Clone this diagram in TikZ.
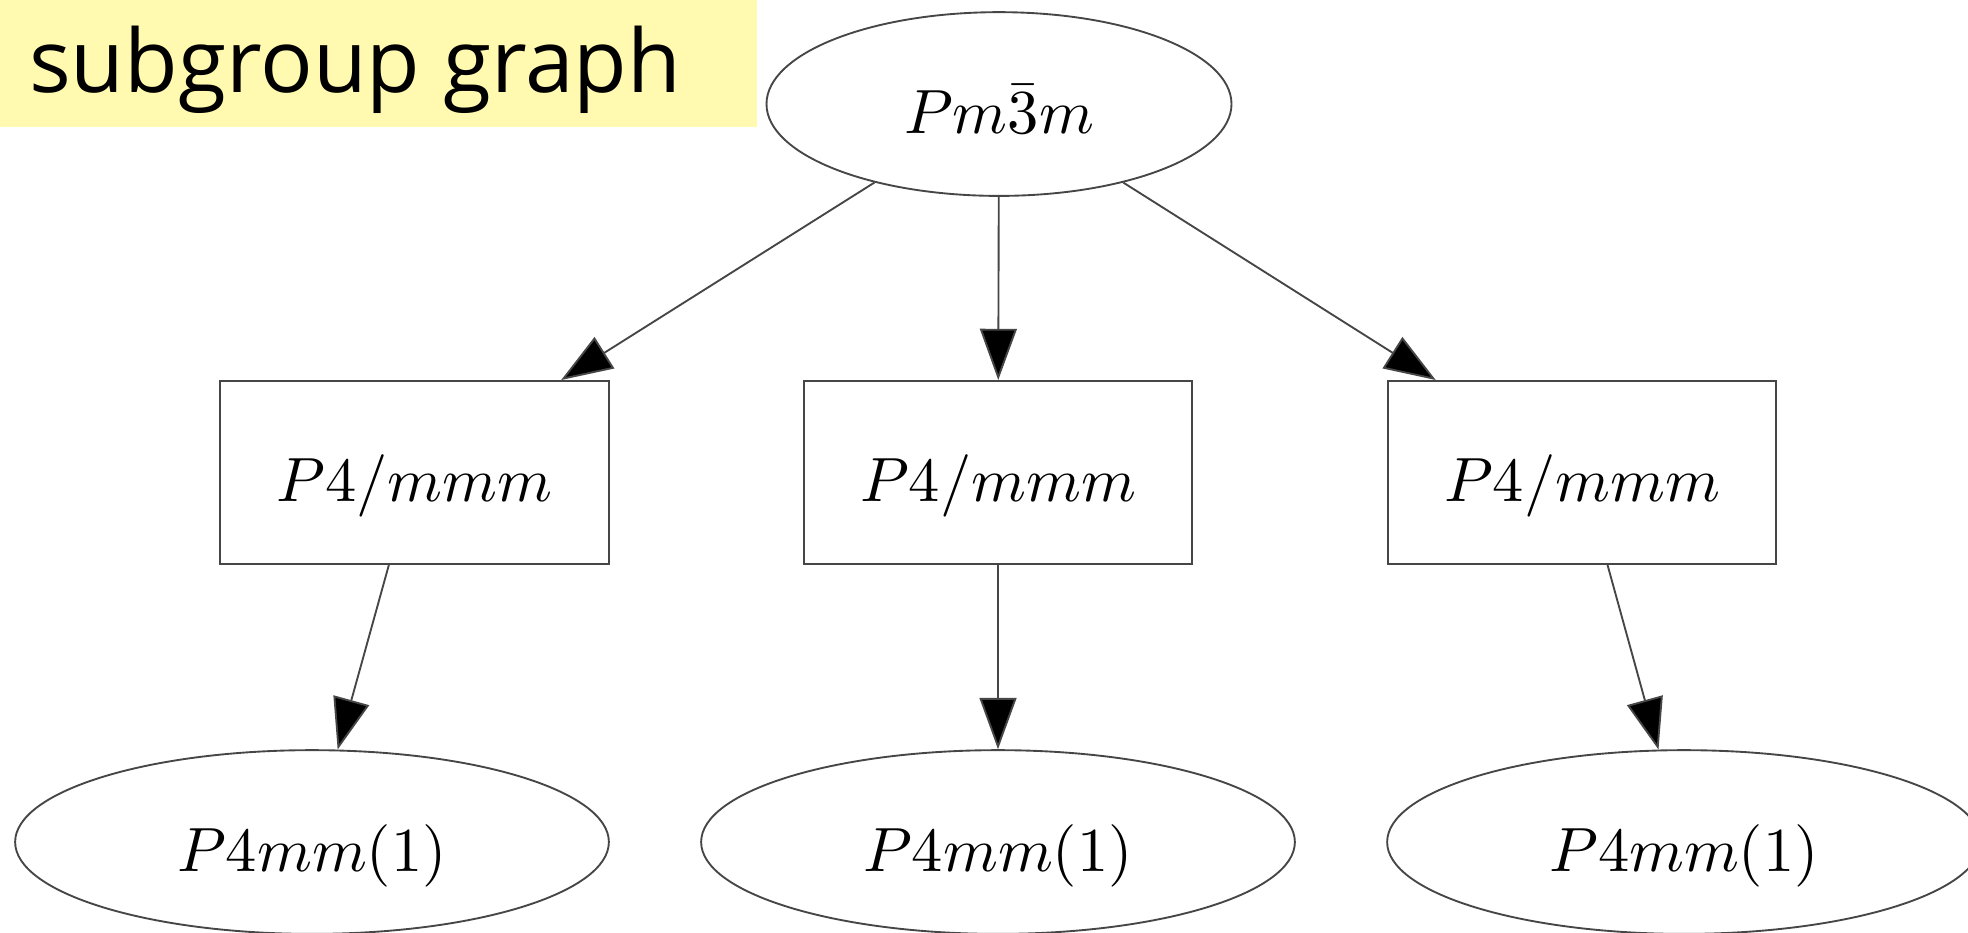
\documentclass[tikz,border=0pt]{standalone}
\usepackage{fontspec}
\newfontfamily\titlefont{Open Sans}
\usetikzlibrary{shapes.geometric,arrows.meta}
\definecolor{titlebg}{RGB}{255,250,175}
\definecolor{edgegray}{RGB}{70,70,70}
\begin{document}
\begin{tikzpicture}[x=0.16pt,y=-0.16pt,
  grouplabel/.style={inner sep=0pt,text height=9.4pt,text depth=0pt},
  groupell/.style={ellipse,draw=edgegray,line width=0.3pt,grouplabel,
    minimum height=29.4pt},
  groupbox/.style={rectangle,draw=edgegray,line width=0.3pt,grouplabel,
    minimum width=62.2pt,minimum height=29.3pt},
  link/.style={draw=edgegray,line width=0.3pt,
    -{Triangle[length=8.2pt,width=5.9pt,fill=black]}}]
\useasboundingbox (0,0) rectangle (1968,932);

% title banner
\fill[titlebg] (0,0) rectangle (757,127);
\node[anchor=base west,inner sep=0pt,font=\titlefont\fontsize{14}{16}\selectfont]
  (title) at (28,92) {subgroup graph};

% parent group
\node[groupell,minimum width=74.4pt] (top) at (999,104) {$Pm\bar{3}m$};

% maximal subgroups
\node[groupbox] (b1) at (414.5,472.5) {$P4/mmm$};
\node[groupbox] (b2) at (998,472.5) {$P4/mmm$};
\node[groupbox] (b3) at (1582,472.5) {$P4/mmm$};

% further subgroups
\node[groupell,minimum width=95pt] (l1) at (312,842) {$P4mm(1)$};
\node[groupell,minimum width=95pt] (l2) at (998,842) {$P4mm(1)$};
\node[groupell,minimum width=95pt] (l3) at (1684,842) {$P4mm(1)$};

% inclusions
\draw[link] (top) -- (b1);
\draw[link] (top) -- (b2);
\draw[link] (top) -- (b3);
\draw[link] (b1) -- (l1);
\draw[link] (b2) -- (l2);
\draw[link] (b3) -- (l3);
\end{tikzpicture}
\end{document}
